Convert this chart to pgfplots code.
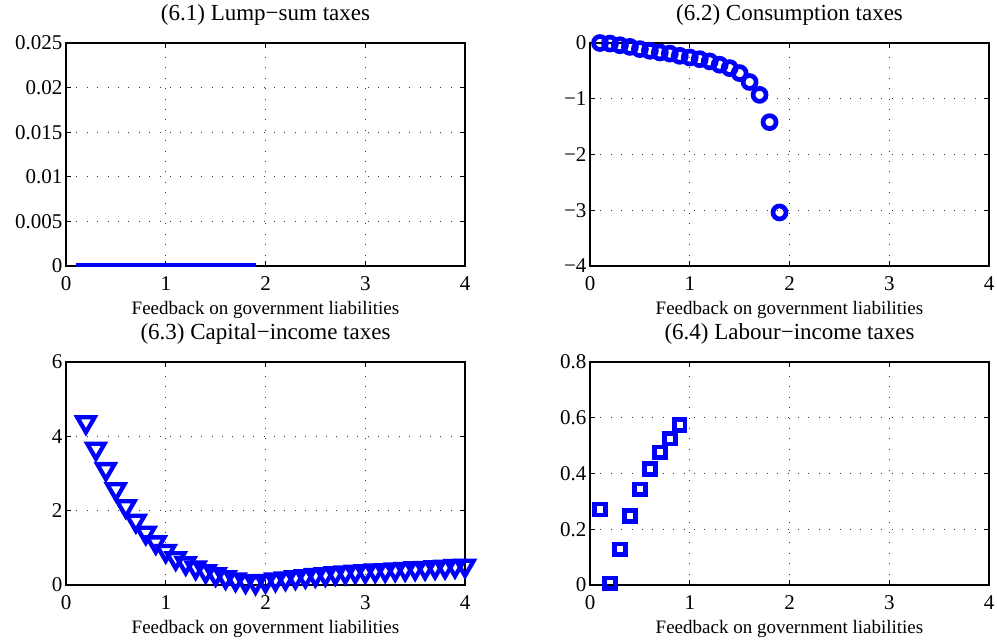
\documentclass[border=0pt]{standalone}
\usepackage{fontspec}
\setmainfont{Liberation Serif}
\usepackage{pgfplots}
\pgfplotsset{compat=1.18}
\definecolor{mblue}{RGB}{0,0,255}
\pgfplotsset{
 panel/.style={width=399pt,height=223pt,scale only axis, anchor=south west,
  xmin=0,xmax=4, xtick={0,1,2,3,4}, xticklabels={0,1,2,3,4},
  scaled y ticks=false, scaled x ticks=false,
  grid=major, major grid style={black!80,line width=0.9pt,dash pattern=on 0.9pt off 9.5pt},
  axis line style={line width=1.3pt}, every tick/.style={black,line width=1.1pt}, major tick length=5pt,
  tick label style={font=\fontsize{21}{21}\selectfont},
  xticklabel style={yshift=-7pt},
  xlabel={Feedback on government liabilities},
  xlabel style={font=\fontsize{19}{19}\selectfont, at={(axis description cs:0.5,0)}, anchor=base, yshift=-49pt},
  title style={font=\fontsize{23}{23}\selectfont, at={(axis description cs:0.5,1)}, anchor=base, yshift=16pt},
 }
}
\begin{document}
\begin{tikzpicture}
\useasboundingbox (0,0) rectangle (997pt,642pt);
% (6.1)
\begin{axis}[panel, at={(66pt,376pt)}, ymin=0, ymax=0.025,
  ytick={0,0.005,0.01,0.015,0.02,0.025}, yticklabels={0,0.005,0.01,0.015,0.02,0.025},
  title={(6.1) Lump−sum taxes}, clip=false]
\addplot[mblue, line width=4pt, no marks] coordinates {
(0.1,0.0001)(0.2,0.0001)(0.3,0.0001)(0.4,0.0001)(0.5,0.0001)(0.6,0.0001)(0.7,0.0001)(0.8,0.0001)(0.9,0.0001)(1.0,0.0001)
(1.1,0.0001)(1.2,0.0001)(1.3,0.0001)(1.4,0.0001)(1.5,0.0001)(1.6,0.0001)(1.7,0.0001)(1.8,0.0001)(1.9,0.0001)};
\end{axis}
% (6.2)
\begin{axis}[panel, at={(590pt,376pt)}, ymin=-4, ymax=0,
  ytick={-4,-3,-2,-1,0}, yticklabels={−4,−3,−2,−1,0},
  title={(6.2) Consumption taxes}, clip=false]
\addplot[mblue, only marks, mark=o, mark size=6.5pt, mark options={line width=4.7pt}] coordinates {
(0.1,0.00)(0.2,-0.01)(0.3,-0.04)(0.4,-0.07)(0.5,-0.11)(0.6,-0.14)(0.7,-0.17)(0.8,-0.19)(0.9,-0.23)(1.0,-0.26)
(1.1,-0.29)(1.2,-0.33)(1.3,-0.39)(1.4,-0.45)(1.5,-0.54)(1.6,-0.70)(1.7,-0.93)(1.8,-1.42)(1.9,-3.04)};
\end{axis}
% (6.3)
\begin{axis}[panel, at={(66pt,57pt)}, ymin=0, ymax=6,
  ytick={0,2,4,6}, yticklabels={0,2,4,6},
  title={(6.3) Capital−income taxes}, clip=false]
\addplot[mblue, only marks, mark=triangle, mark size=10pt, mark options={line width=4.3pt, yshift=2.5pt, rotate=180}] coordinates {
(0.2,4.31)(0.3,3.60)(0.4,3.05)(0.5,2.51)(0.6,2.05)(0.7,1.66)(0.8,1.34)(0.9,1.08)(1.0,0.85)
(1.1,0.65)(1.2,0.52)(1.3,0.40)(1.4,0.30)(1.5,0.22)(1.6,0.14)(1.7,0.08)(1.8,0.03)(1.9,0.00)(2.0,0.04)
(2.1,0.08)(2.2,0.11)(2.3,0.14)(2.4,0.17)(2.5,0.20)(2.6,0.22)(2.7,0.25)(2.8,0.27)(2.9,0.29)(3.0,0.30)
(3.1,0.32)(3.2,0.33)(3.3,0.35)(3.4,0.36)(3.5,0.38)(3.6,0.39)(3.7,0.41)(3.8,0.42)(3.9,0.44)(4.0,0.45)};
\end{axis}
% (6.4)
\begin{axis}[panel, at={(590pt,57pt)}, ymin=0, ymax=0.8,
  ytick={0,0.2,0.4,0.6,0.8}, yticklabels={0,0.2,0.4,0.6,0.8},
  title={(6.4) Labour−income taxes}, clip=false]
\addplot[mblue, only marks, mark=square, mark size=5.4pt, mark options={line width=4.6pt}] coordinates {
(0.1,0.271)(0.2,0.006)(0.3,0.128)(0.4,0.247)(0.5,0.343)(0.6,0.416)(0.7,0.476)(0.8,0.525)(0.9,0.574)};
\end{axis}
\end{tikzpicture}
\end{document}
